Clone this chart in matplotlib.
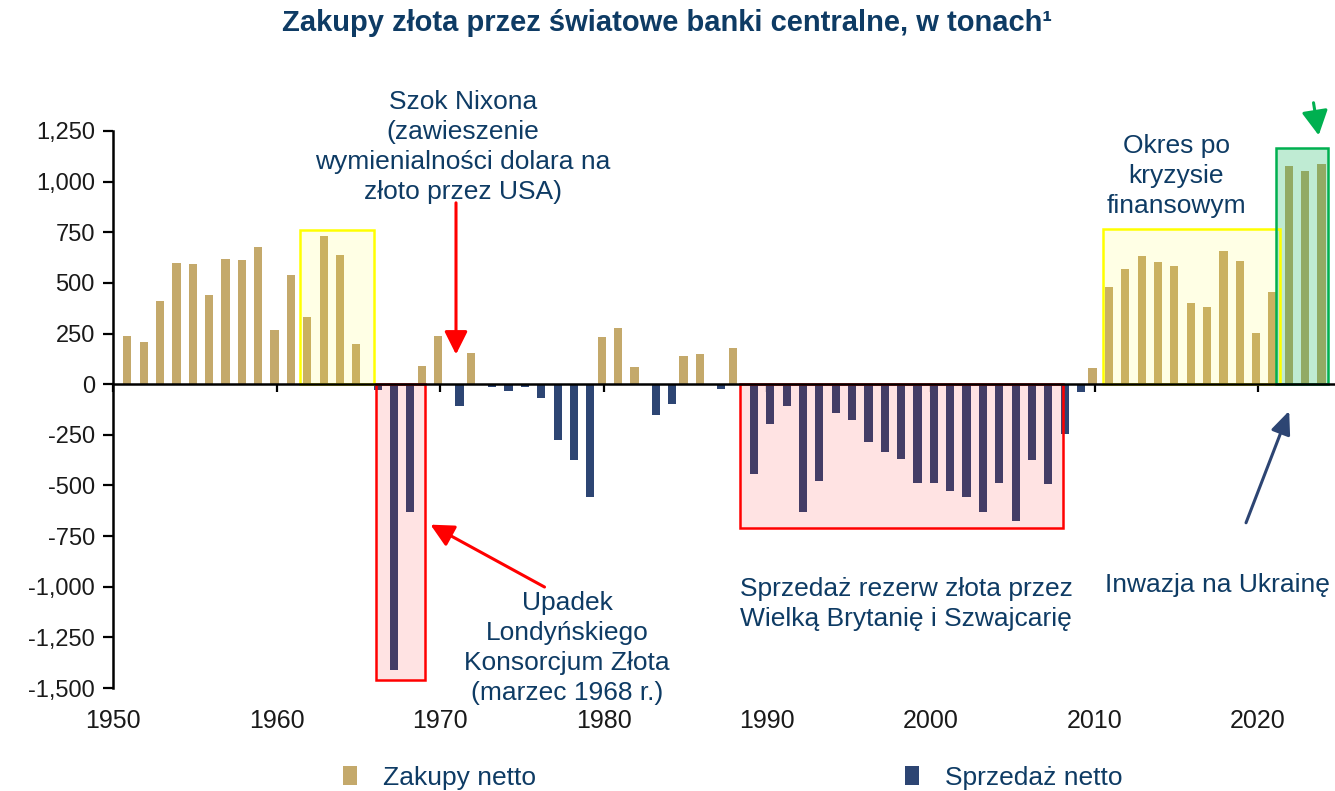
import matplotlib.pyplot as plt
from matplotlib.patches import Rectangle, Patch
from matplotlib.ticker import FuncFormatter

plt.rcParams['font.family'] = ['Liberation Sans', 'DejaVu Sans']

# net purchases (tonnes)
buy_years = [1951, 1952, 1953, 1954, 1955, 1956, 1957, 1958, 1959, 1960,
             1961, 1962, 1963, 1964, 1965, 1969, 1970, 1972, 1980, 1981,
             1982, 1985, 1986, 1988, 2010, 2011, 2012, 2013, 2014, 2015,
             2016, 2017, 2018, 2019, 2020, 2021, 2022, 2023, 2024]
buy_tonnes = [237, 209, 410, 600, 595, 438, 617, 612, 676, 266,
              541, 334, 732, 637, 197, 92, 240, 153, 231, 275,
              86, 137, 147, 181, 82, 481, 571, 631, 601, 583,
              399, 379, 657, 609, 255, 453, 1079, 1051, 1087]

# net sales (tonnes)
sell_years = [1966, 1967, 1968, 1971, 1973, 1974, 1975, 1976, 1977, 1978,
              1979, 1983, 1984, 1987, 1989, 1990, 1991, 1992, 1993, 1994,
              1995, 1996, 1997, 1998, 1999, 2000, 2001, 2002, 2003, 2004,
              2005, 2006, 2007, 2008, 2009]
sell_tonnes = [-30, -1411, -630, -107, -13, -33, -16, -66, -277, -372,
               -555, -153, -97, -26, -443, -198, -107, -631, -478, -140,
               -175, -285, -334, -371, -488, -488, -529, -557, -631, -488,
               -675, -376, -494, -244, -40]

# highlighted periods: (x0, x1, y0, y1, colour, alpha)
highlights = [
    (1961.43, 1965.96, 0, 761, '#FFFF00', 0.10),
    (1966.08, 1969.07, -1462, 0, '#FF0000', 0.11),
    (1988.33, 2008.08, -711, 0, '#FF0000', 0.11),
    (2010.50, 2021.35, 0, 766, '#FFFF00', 0.10),
    (2021.10, 2024.30, 0, 1166, '#00B050', 0.25),
]

tan = '#C4A96B'
navy = '#2D4573'
txt = '#0E3B64'

fig = plt.figure(figsize=(13.35, 7.91), dpi=100)
ax = fig.add_axes([0.0846, 0.1302, 0.9154, 0.7042])

ax.bar([y - 0.12 for y in buy_years], buy_tonnes, width=0.5, color=tan, zorder=2)
ax.bar([y + 0.18 for y in sell_years], sell_tonnes, width=0.5, color=navy, zorder=2)

for x0, x1, y0, y1, c, a in highlights:
    ax.add_patch(Rectangle((x0, y0), x1 - x0, y1 - y0, facecolor=c, alpha=a,
                           edgecolor='none', zorder=3))
    ax.add_patch(Rectangle((x0, y0), x1 - x0, y1 - y0, facecolor='none',
                           edgecolor=c, lw=1.8, zorder=4))

ax.set_xlim(1950, 2024.7)
ax.set_ylim(-1500, 1250)
ax.set_yticks(range(-1500, 1251, 250))
ax.yaxis.set_major_formatter(FuncFormatter(lambda v, p: f'{v:,.0f}'))
ax.tick_params(axis='y', direction='out', length=7, width=1.6, labelsize=17,
               labelcolor='#1a1a1a', pad=6)

for s in ['top', 'right']:
    ax.spines[s].set_visible(False)
ax.spines['left'].set_linewidth(1.8)
ax.spines['bottom'].set_position(('data', 0))
ax.spines['bottom'].set_linewidth(1.8)
ax.spines['bottom'].set_zorder(5)
ax.set_xticks(range(1950, 2021, 10))
ax.tick_params(axis='x', direction='out', length=6, width=1.6, labelbottom=False)

sec = ax.secondary_xaxis('bottom')
sec.set_xticks(range(1950, 2021, 10))
sec.tick_params(length=0, labelsize=18, labelcolor='#1a1a1a', pad=15)
sec.spines['bottom'].set_visible(False)

# annotations
ax.text(1971.4, 1171, 'Szok Nixona\n(zawieszenie\nwymienialności dolara na\nzłoto przez USA)',
        ha='center', va='center', fontsize=19, color=txt, linespacing=1.32, clip_on=False)
ax.annotate('', xy=(1970.97, 133), xytext=(1970.97, 909),
            arrowprops=dict(arrowstyle='-|>,head_length=1.4,head_width=0.7', color='#FF0000', lw=2.2))

ax.text(1977.76, -1304, 'Upadek\nLondyńskiego\nKonsorcjum Złota\n(marzec 1968 r.)',
        ha='center', va='center', fontsize=19, color=txt, linespacing=1.32, clip_on=False)
ax.annotate('', xy=(1969.26, -687), xytext=(1976.53, -1008),
            arrowprops=dict(arrowstyle='-|>,head_length=1.4,head_width=0.7', color='#FF0000', lw=2.2))

ax.text(1988.33, -1087, 'Sprzedaż rezerw złota przez\nWielką Brytanię i Szwajcarię',
        ha='left', va='center', fontsize=19, color=txt, linespacing=1.32)

ax.text(2015.0, 1028, 'Okres po\nkryzysie\nfinansowym',
        ha='center', va='center', fontsize=19, color=txt, linespacing=1.32)

ax.text(2010.65, -993, 'Inwazja na Ukrainę',
        ha='left', va='center', fontsize=19, color=txt, clip_on=False)
ax.annotate('', xy=(2021.96, -119), xytext=(2019.2, -697),
            arrowprops=dict(arrowstyle='-|>,head_length=1.4,head_width=0.6', color=navy, lw=2.2))

ax.annotate('', xy=(2023.73, 1215), xytext=(2023.36, 1403), annotation_clip=False,
            arrowprops=dict(arrowstyle='-|>,head_length=1.5,head_width=0.8', color='#00B050', lw=2.2))

fig.suptitle('Zakupy złota przez światowe banki centralne, w tonach¹', x=0.5, y=0.988,
             fontsize=21, fontweight='bold', color=txt, va='top')

handles = [Patch(facecolor=tan, edgecolor='none'), Patch(facecolor=navy, edgecolor='none')]
fig.legend(handles, ['Zakupy netto', 'Sprzedaż netto'], loc='center',
           bbox_to_anchor=(733 / 1335, 1 - 778 / 791), ncol=2, frameon=False,
           fontsize=19, labelcolor=txt, handlelength=0.5, handleheight=0.75,
           handletextpad=1.0, columnspacing=14)

fig.savefig('out.png', dpi=100)
